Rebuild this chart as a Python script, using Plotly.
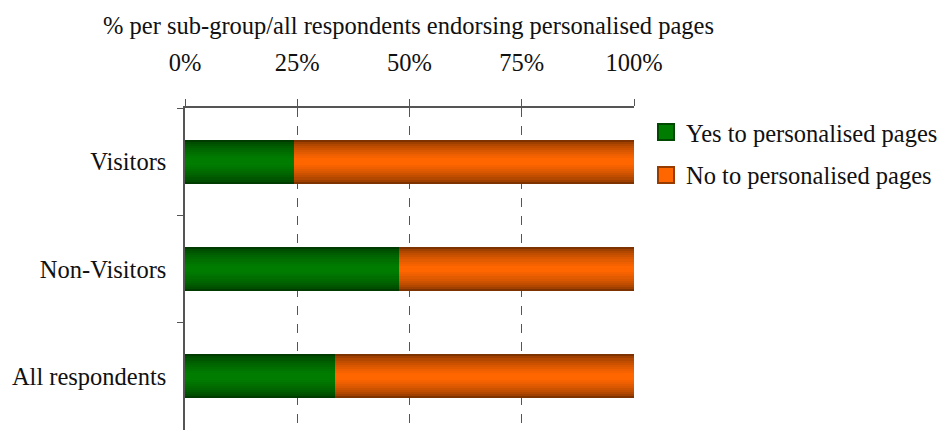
import plotly.graph_objects as go

categories = ["Visitors", "Non-Visitors", "All respondents"]
yes_pct = [24.3, 47.6, 33.4]
no_pct = [100 - v for v in yes_pct]
series_names = ["Yes to personalised pages", "No to personalised pages"]
tick_vals = [0, 25, 50, 75, 100]
tick_text = ["0%", "25%", "50%", "75%", "100%"]
x_title = "% per sub-group/all respondents endorsing personalised pages"

FONT = "Liberation Serif"
FS = 24.5

def mix(c1, c2, t):
    return "rgb(%d,%d,%d)" % tuple(round(a + (b - a) * t) for a, b in zip(c1, c2))

green_dark, green_bright = (0, 60, 0), (0, 125, 0)
orange_dark, orange_bright = (125, 50, 0), (255, 102, 0)

fig = go.Figure()
full_w = 0.41
n_layers = 10
series = [
    (series_names[0], [0] * 3, yes_pct, green_dark, green_bright),
    (series_names[1], yes_pct, no_pct, orange_dark, orange_bright),
]
for name, base, vals, dark, bright in series:
    for i in range(n_layers):
        t = i / (n_layers - 1)
        w = full_w * (1 - 0.85 * t)
        fig.add_trace(go.Bar(
            y=categories, x=vals, base=base, orientation="h",
            width=w, name=name,
            marker=dict(color=mix(dark, bright, t ** 0.6), line=dict(width=0)),
            showlegend=False, legendgroup=name,
            hoverinfo="skip",
        ))
    # legend entry
    fig.add_trace(go.Scatter(
        x=[None], y=[None], mode="markers", name=name, legendgroup=name,
        marker=dict(symbol="square", size=16, color=mix(dark, bright, 1.0),
                    line=dict(color=mix(dark, bright, 0.2), width=2)),
        showlegend=True, hoverinfo="skip",
    ))

fig.update_layout(
    width=940, height=430,
    margin=dict(l=185, r=306, t=108, b=0, autoexpand=False),
    barmode="overlay",
    bargap=0,
    plot_bgcolor="white", paper_bgcolor="white",
    font=dict(family=FONT, size=FS, color="#111"),
    showlegend=True,
    legend=dict(x=(646 - 185) / 449, y=0.995, xanchor="left", yanchor="top",
                font=dict(family=FONT, size=FS), traceorder="grouped",
                tracegroupgap=8, itemwidth=30),
    xaxis=dict(
        side="top", range=[0, 100], tickvals=tick_vals, ticktext=tick_text,
        showgrid=True, griddash="dash", gridcolor="#555", gridwidth=1,
        showline=True, linecolor="#555", linewidth=1.5,
        ticks="outside", ticklen=7, tickcolor="#555",
        zeroline=False, ticklabelstandoff=18,
        tickfont=dict(family=FONT, size=FS),
    ),
    yaxis=dict(
        categoryorder="array", categoryarray=categories, autorange="reversed",
        showline=True, linecolor="#555", linewidth=1.5,
        ticks="outside", ticklen=6, tickcolor="#555", tickson="boundaries",
        showgrid=False, zeroline=False, ticklabelstandoff=12,
        tickfont=dict(family=FONT, size=FS),
    ),
    annotations=[dict(
        text=x_title, xref="paper", yref="paper", x=0.497,
        y=1 + (108 - 25) / 322, xanchor="center", yanchor="middle",
        showarrow=False, font=dict(family=FONT, size=FS),
    )],
)

fig.write_html("out.html")
